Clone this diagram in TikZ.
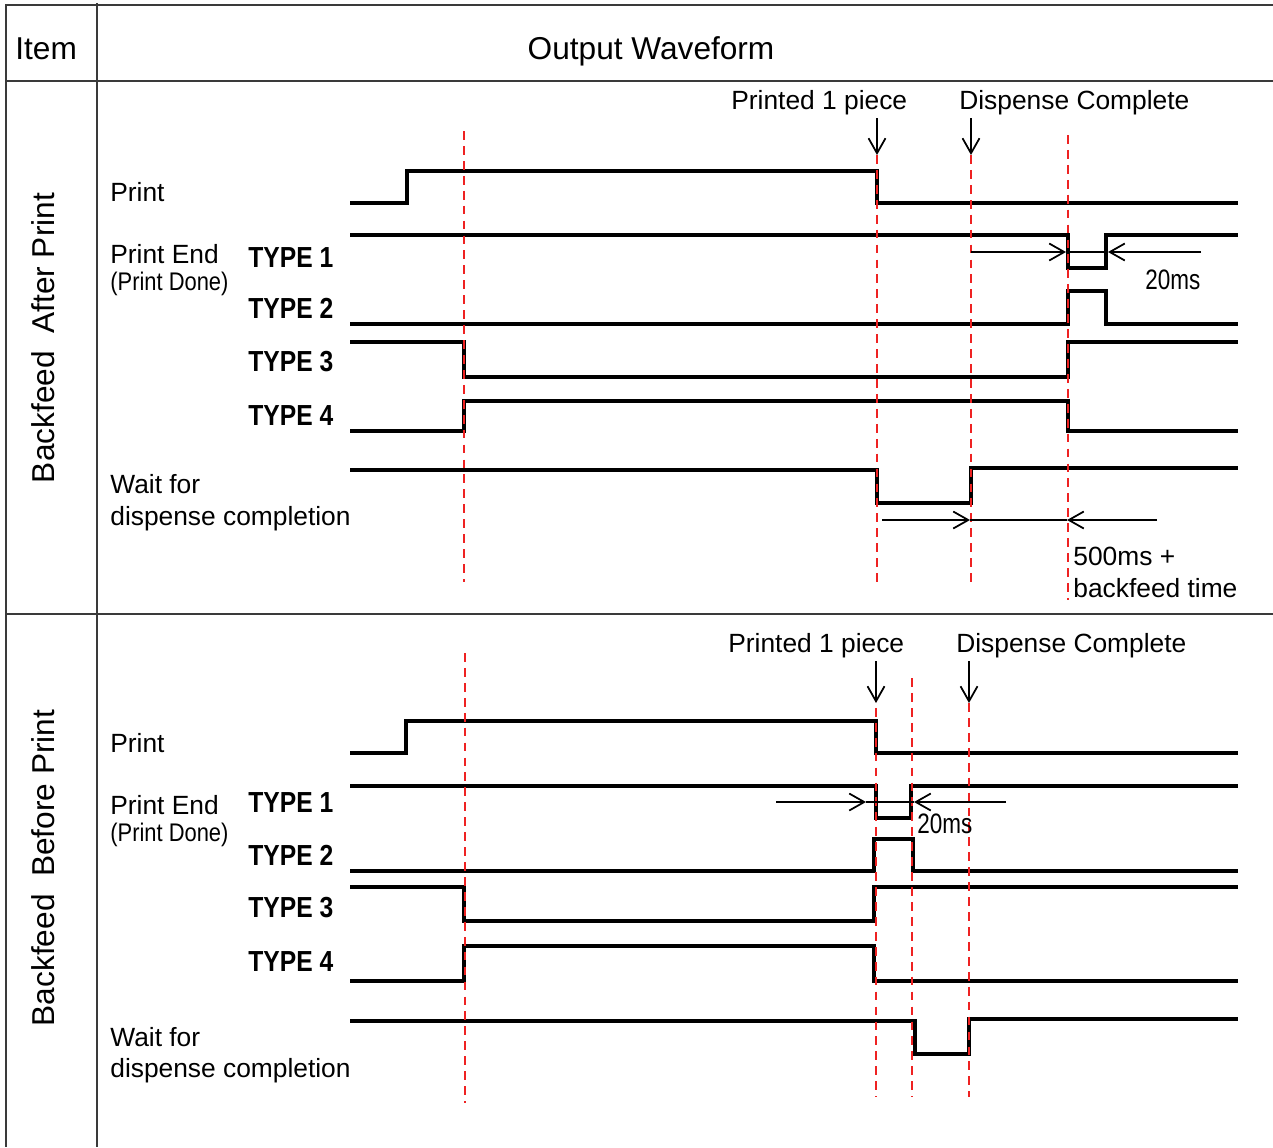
\documentclass[tikz,border=0pt]{standalone}
\usepackage{fontspec}
\setmainfont{Liberation Sans}
\newfontfamily\narrowfont[FakeStretch=0.8]{Liberation Sans}
\newfontfamily\doneFont[FakeStretch=0.86]{Liberation Sans}
\newfontfamily\typefont[FakeStretch=0.85]{Liberation Sans}
\usetikzlibrary{arrows.meta,positioning}
\definecolor{guidered}{HTML}{EE2222}
\definecolor{rulegray}{HTML}{3A3A3A}

\begin{document}
\begin{tikzpicture}[x=0.02cm,y=-0.02cm]
    \tikzstyle{tablerule}=[draw=rulegray,line width=1pt]
    \tikzstyle{wave}=[draw=black,line width=1.8pt]
    \tikzstyle{guide}=[draw=guidered,line width=1.5pt,dash pattern=on 5pt off 3.5pt]
    \tikzstyle{pointer}=[-{Straight Barb[length=3mm,width=3.4mm]},line width=1pt]
    \tikzstyle{spanline}=[line width=0.6pt]
    \tikzstyle{headtxt}=[font=\fontsize{18}{22}\selectfont,inner sep=0pt]
    \tikzstyle{lbltxt}=[font=\fontsize{15}{18}\selectfont,inner sep=0pt,anchor=base west]
    \tikzstyle{subtxt}=[font=\doneFont\fontsize{14.5}{17}\selectfont,inner sep=0pt,anchor=base west]
    \tikzstyle{typetxt}=[font=\typefont\bfseries\fontsize{16.5}{20}\selectfont,inner sep=0pt,anchor=base west]
    \tikzstyle{mstxt}=[font=\narrowfont\fontsize{16}{19}\selectfont,inner sep=0pt,anchor=base west]
    \useasboundingbox (0,0) rectangle (1273,1147);

    % table
    \draw[tablerule] (1273,5) -- (6,5) -- (6,1147);
    \draw[tablerule] (97,3) -- (97,1147);
    \draw[tablerule] (6,81) -- (1273,81);
    \draw[tablerule] (6,614) -- (1273,614);
    \node[headtxt,anchor=base west] (item) at (15,59) {Item};
    \node[headtxt,anchor=base] (owave) at (651,59) {Output Waveform};
    \node[headtxt,anchor=base,rotate=90] (after) at (54,338) {Backfeed\ \ After Print};
    \node[headtxt,anchor=base,rotate=90] (before) at (54,868) {Backfeed\ \ Before Print};

    % backfeed after print
    \node[lbltxt] (print1) at (110,201) {Print};
    \node[lbltxt] (pend1) at (110,263) {Print End};
    \node[subtxt] (pdone1) at (110,290) {(Print Done)};
    \node[typetxt] (typea1) at (248,267) {TYPE 1};
    \node[typetxt] (typeb1) at (248,318) {TYPE 2};
    \node[typetxt] (typec1) at (248,371) {TYPE 3};
    \node[typetxt] (typed1) at (248,425) {TYPE 4};
    \node[lbltxt] (wait1) at (110,493) {Wait for};
    \node[lbltxt] (disp1) at (110,525) {dispense completion};

    \draw[wave] (350,203) -- (407,203) |- (877,171) |- (1238,203);
    \draw[wave] (350,235) -- (1068,235) |- (1106,268) |- (1238,235);
    \draw[wave] (350,324) -- (1068,324) |- (1106,291) |- (1238,324);
    \draw[wave] (350,342) -- (464,342) |- (1068,377) |- (1238,342);
    \draw[wave] (350,431) -- (464,431) |- (1068,401) |- (1238,431);
    \draw[wave] (350,470) -- (877,470) |- (971,503) |- (1238,468);

    \draw[guide] (464,131) -- (464,582);
    \draw[guide] (877,155) -- (877,582);
    \draw[guide] (971,155) -- (971,582);
    \draw[guide] (1068,135) -- (1068,600);

    \node[lbltxt] (prt1) at (731,109) {Printed 1 piece};
    \node[lbltxt] (dsp1) at (959,109) {Dispense Complete};
    \coordinate (pa1) at (877,155);
    \coordinate (da1) at (971,155);
    \draw[pointer] ([yshift=-2pt]prt1.south -| pa1) -- (pa1);
    \draw[pointer] ([yshift=-2pt]dsp1.south -| da1) -- (da1);

    \coordinate (ta1) at (971,252);
    \coordinate (tb1) at (1066,252);
    \coordinate (tc1) at (1108,252);
    \coordinate (td1) at (1201,252);
    \draw[pointer] (ta1) -- (tb1);
    \draw[spanline] (tb1) -- (tc1);
    \draw[pointer] (td1) -- (tc1);
    \node[mstxt] (ms1) at (1145,289) {20ms};

    \coordinate (wa1) at (882,520);
    \coordinate (wb1) at (970,520);
    \coordinate (wc1) at (1067,520);
    \coordinate (wd1) at (1157,520);
    \draw[pointer] (wa1) -- (wb1);
    \draw[spanline] (wb1) -- (wc1);
    \draw[pointer] (wd1) -- (wc1);
    \node[lbltxt] (bf1) at (1073,565) {500ms +};
    \node[lbltxt] (bf2) at (1073,597) {backfeed time};

    % backfeed before print
    \node[lbltxt] (print2) at (110,752) {Print};
    \node[lbltxt] (pend2) at (110,814) {Print End};
    \node[subtxt] (pdone2) at (110,841) {(Print Done)};
    \node[typetxt] (typea2) at (248,812) {TYPE 1};
    \node[typetxt] (typeb2) at (248,865) {TYPE 2};
    \node[typetxt] (typec2) at (248,917) {TYPE 3};
    \node[typetxt] (typed2) at (248,971) {TYPE 4};
    \node[lbltxt] (wait2) at (110,1046) {Wait for};
    \node[lbltxt] (disp2) at (110,1077) {dispense completion};

    \draw[wave] (350,753) -- (406,753) |- (876,721) |- (1238,753);
    \draw[wave] (350,786) -- (876,786) |- (911,818) |- (1238,786);
    \draw[wave] (350,871) -- (874,871) |- (913,839) |- (1238,871);
    \draw[wave] (350,887) -- (464,887) |- (874,921) |- (1238,887);
    \draw[wave] (350,981) -- (464,981) |- (874,946) |- (1238,981);
    \draw[wave] (350,1021) -- (915,1021) |- (969,1054) |- (1238,1019);

    \draw[guide] (465,653) -- (465,1103);
    \draw[guide] (876,678) -- (876,1097);
    \draw[guide] (912,678) -- (912,1097);
    \draw[guide] (969,703) -- (969,1097);

    \node[lbltxt] (prt2) at (728,652) {Printed 1 piece};
    \node[lbltxt] (dsp2) at (956,652) {Dispense Complete};
    \coordinate (pa2) at (876,703);
    \coordinate (da2) at (969,703);
    \draw[pointer] ([yshift=-2pt]prt2.south -| pa2) -- (pa2);
    \draw[pointer] ([yshift=-2pt]dsp2.south -| da2) -- (da2);

    \coordinate (ta2) at (776,802);
    \coordinate (tb2) at (866,802);
    \coordinate (tc2) at (914,802);
    \coordinate (td2) at (1006,802);
    \draw[pointer] (ta2) -- (tb2);
    \draw[spanline] (tb2) -- (tc2);
    \draw[pointer] (td2) -- (tc2);
    \node[mstxt] (ms2) at (917,833) {20ms};
\end{tikzpicture}
\end{document}
